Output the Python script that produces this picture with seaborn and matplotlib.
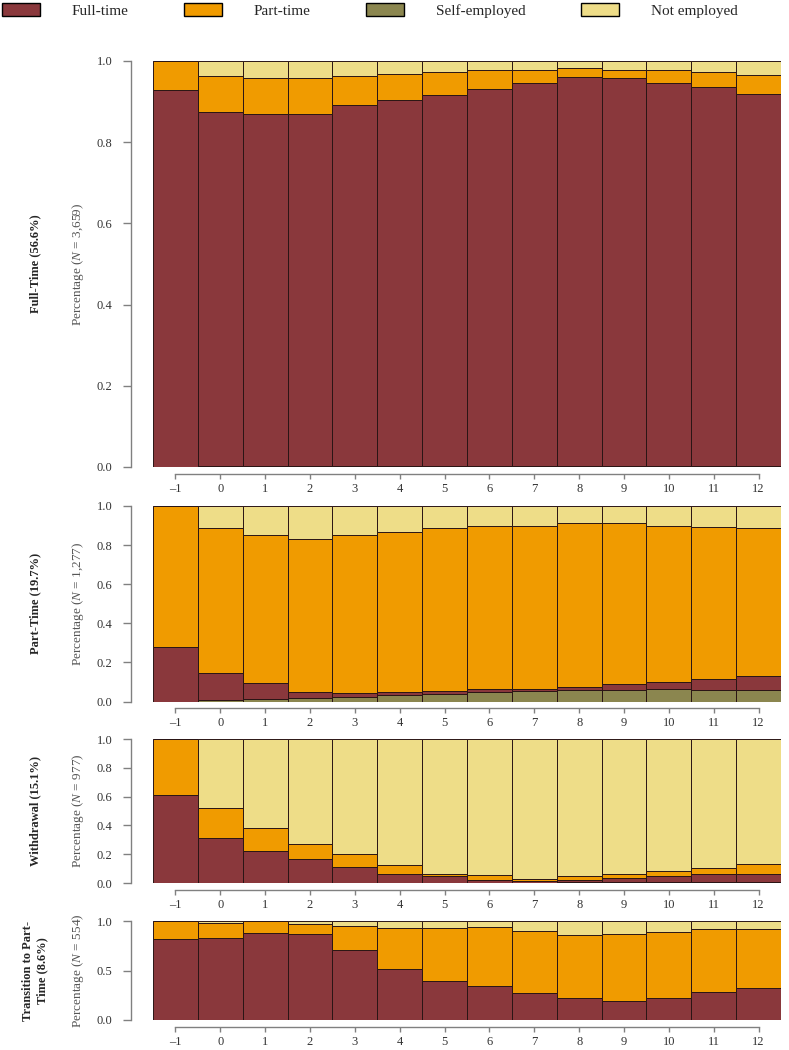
import pandas as pd
import seaborn as sns
import matplotlib.pyplot as plt
from matplotlib.patches import Patch

# x axis: years around the event
years = list(range(-1, 13))
year_labels = ["–1"] + [str(y) for y in range(0, 13)]

states = ["Full-time", "Part-time", "Self-employed", "Not employed"]
palette = {"Full-time": "#8a383c", "Part-time": "#f09b00",
           "Self-employed": "#8b864f", "Not employed": "#eedd88"}
# seaborn stacks the last hue level at the bottom
stack_order = ["Not employed", "Part-time", "Full-time", "Self-employed"]

# Cluster 1: Full-Time
ft_1 = [0.929, 0.872, 0.867, 0.868, 0.889, 0.901, 0.915, 0.930, 0.944, 0.959, 0.955, 0.944, 0.935, 0.917]
pt_1 = [0.071, 0.090, 0.088, 0.087, 0.072, 0.066, 0.055, 0.047, 0.033, 0.021, 0.022, 0.031, 0.035, 0.047]
se_1 = [0.000, 0.002, 0.002, 0.002, 0.002, 0.002, 0.002, 0.002, 0.002, 0.002, 0.002, 0.002, 0.002, 0.002]
ne_1 = [0.000, 0.036, 0.043, 0.043, 0.037, 0.031, 0.028, 0.021, 0.021, 0.018, 0.021, 0.023, 0.028, 0.034]

# Cluster 2: Part-Time
ft_2 = [0.278, 0.137, 0.079, 0.030, 0.017, 0.018, 0.016, 0.014, 0.012, 0.015, 0.032, 0.036, 0.058, 0.074]
pt_2 = [0.722, 0.743, 0.761, 0.783, 0.812, 0.819, 0.836, 0.833, 0.833, 0.838, 0.821, 0.797, 0.776, 0.759]
se_2 = [0.000, 0.008, 0.014, 0.020, 0.025, 0.032, 0.038, 0.050, 0.052, 0.059, 0.059, 0.064, 0.059, 0.057]
ne_2 = [0.000, 0.112, 0.146, 0.167, 0.146, 0.131, 0.110, 0.103, 0.103, 0.088, 0.088, 0.103, 0.107, 0.110]

# Cluster 3: Withdrawal
ft_3 = [0.608, 0.313, 0.223, 0.167, 0.114, 0.065, 0.047, 0.024, 0.011, 0.016, 0.034, 0.043, 0.061, 0.058]
pt_3 = [0.392, 0.205, 0.160, 0.107, 0.084, 0.058, 0.018, 0.030, 0.017, 0.023, 0.027, 0.039, 0.037, 0.070]
se_3 = [0.000, 0.000, 0.000, 0.000, 0.000, 0.000, 0.000, 0.000, 0.003, 0.008, 0.004, 0.004, 0.004, 0.007]
ne_3 = [0.000, 0.482, 0.617, 0.726, 0.802, 0.877, 0.935, 0.946, 0.969, 0.953, 0.935, 0.914, 0.898, 0.865]

# Cluster 4: Transition to Part-Time
ft_4 = [0.822, 0.832, 0.882, 0.873, 0.711, 0.513, 0.392, 0.339, 0.272, 0.218, 0.195, 0.218, 0.279, 0.319]
pt_4 = [0.178, 0.148, 0.118, 0.097, 0.242, 0.420, 0.541, 0.604, 0.631, 0.644, 0.677, 0.674, 0.643, 0.603]
se_4 = [0.000, 0.000, 0.000, 0.000, 0.000, 0.000, 0.000, 0.000, 0.000, 0.000, 0.000, 0.000, 0.000, 0.000]
ne_4 = [0.000, 0.020, 0.000, 0.030, 0.047, 0.067, 0.067, 0.057, 0.097, 0.138, 0.128, 0.108, 0.078, 0.078]

titles = ["Full-Time (56.6%)", "Part-Time (19.7%)", "Withdrawal (15.1%)",
          "Transition to Part-\nTime (8.6%)"]
n_obs = ["3,659", "1,277", "977", "554"]
clusters = [(ft_1, pt_1, se_1, ne_1), (ft_2, pt_2, se_2, ne_2),
            (ft_3, pt_3, se_3, ne_3), (ft_4, pt_4, se_4, ne_4)]

sns.set_theme(style="ticks")
plt.rcParams["font.family"] = ["Liberation Serif", "DejaVu Serif"]
plt.rcParams["mathtext.fontset"] = "custom"
plt.rcParams["mathtext.rm"] = "Liberation Serif"
plt.rcParams["mathtext.it"] = "Liberation Serif:italic"

W, H = 789, 1050
fig = plt.figure(figsize=(W / 100, H / 100), dpi=100)

# panel extents in pixels (top, bottom) of the bars
boxes = [(61, 467), (506, 701.5), (739, 883), (921, 1020)]
left, right = 153, 781
axis_grey = "#808080"

for i, (ft, pt, se, ne) in enumerate(clusters):
    top, bottom = boxes[i]
    ax = fig.add_axes([left / W, 1 - bottom / H, (right - left) / W, (bottom - top) / H])

    df = pd.DataFrame({
        "year": years * 4,
        "status": ["Full-time"] * 14 + ["Part-time"] * 14 + ["Self-employed"] * 14 + ["Not employed"] * 14,
        "share": ft + pt + se + ne,
    })
    sns.histplot(data=df, x="year", weights="share", hue="status", hue_order=stack_order,
                 multiple="stack", discrete=True, palette=palette, alpha=1,
                 edgecolor="#2a1515", linewidth=0.7, legend=False, ax=ax)

    ax.set_xlim(-1.5, 12.5)
    ax.set_ylim(0, 1)
    ax.set_xlabel("")
    ax.set_ylabel("")
    yt = [0, 0.5, 1.0] if i == 3 else [0, 0.2, 0.4, 0.6, 0.8, 1.0]
    ax.set_yticks(yt)
    ax.set_yticklabels([f"{v:.1f}" for v in yt])
    ax.set_xticks(years)
    ax.set_xticklabels(year_labels)

    sns.despine(ax=ax, offset={"left": 16, "bottom": 5})
    ax.spines["left"].set_bounds(0, 1)
    ax.spines["bottom"].set_bounds(-1, 12)
    for s in ["left", "bottom"]:
        ax.spines[s].set_color(axis_grey)
        ax.spines[s].set_linewidth(1)
    ax.tick_params(axis="y", length=6, width=1, pad=7, labelsize=9,
                   color=axis_grey, labelcolor="#333333")
    ax.tick_params(axis="x", length=3.5, width=1, pad=3, labelsize=9,
                   color=axis_grey, labelcolor="#333333")

    yc = 1 - (top + bottom) / 2 / H
    fig.text(35 / W, yc, titles[i], rotation=90, ha="center", va="center",
             fontsize=9, fontweight="bold", multialignment="center")
    fig.text(78 / W, yc, f"Percentage ($N$ = {n_obs[i]})", rotation=90,
             ha="center", va="center", fontsize=9.5, color="#555555")

handles = [Patch(facecolor=palette[s], edgecolor="black", linewidth=1, label=s) for s in states]
fig.legend(handles=handles, loc="upper left", bbox_to_anchor=(0, 1 - 1 / H), ncol=4,
           frameon=False, fontsize=11, handlelength=2.5, handleheight=1.0,
           handletextpad=2.1, columnspacing=3.6, borderaxespad=0, borderpad=0.1)

fig.savefig("out.png", dpi=100)
